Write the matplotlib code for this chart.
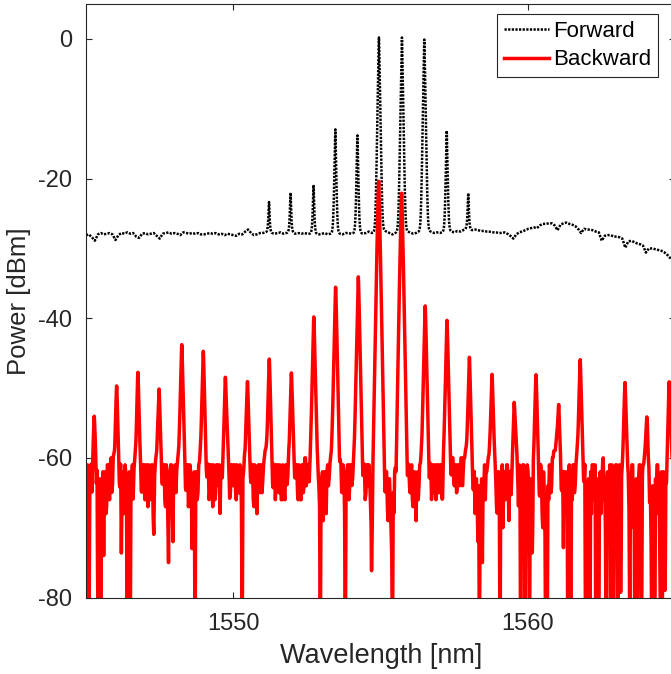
import numpy as np
import matplotlib
matplotlib.use('Agg')
import matplotlib.pyplot as plt

plt.rcParams['font.family'] = ['Liberation Sans', 'DejaVu Sans']
plt.rcParams['axes.unicode_minus'] = False

# ---------------- data ----------------
wl_start = 1545.0
wl_stop = 1565.0

# Backward noise floor [dBm], sampled every 0.025 nm from 1545.000 nm (two lines per nm)
floor_step = 0.025
backward_floor_dbm = [
    -66, -62, -61, -67, -90, -64, -63, -61, -66, -62, -59, -57, -58, -60, -65, -62, -90, -64, -69, -63,
    -90, -65, -66, -62, -74, -63, -62, -68, -67, -61, -61, -64, -66, -61, -60, -65, -64, -60, -60, -61,  # 1545
    -58, -57, -57, -59, -61, -66, -65, -61, -74, -63, -62, -68, -67, -61, -62, -66, -90, -64, -66, -62,
    -90, -65, -63, -61, -66, -62, -61, -60, -62, -60, -57, -57, -60, -61, -62, -66, -65, -61, -61, -64,  # 1546
    -66, -61, -61, -65, -67, -61, -62, -66, -65, -61, -61, -68, -71, -63, -61, -60, -60, -58, -57, -57,
    -58, -60, -61, -65, -64, -61, -61, -66, -67, -61, -62, -69, -75, -64, -63, -61, -61, -66, -72, -62,  # 1547
    -62, -61, -65, -62, -61, -60, -60, -59, -58, -57, -57, -58, -60, -61, -62, -66, -65, -61, -61, -67,
    -66, -61, -62, -65, -73, -64, -66, -62, -90, -63, -62, -66, -65, -61, -61, -60, -60, -58, -57, -57,  # 1548
    -57, -58, -61, -65, -64, -61, -61, -66, -65, -61, -61, -64, -67, -61, -62, -66, -65, -61, -61, -63,
    -64, -61, -68, -62, -62, -64, -61, -60, -60, -58, -57, -57, -58, -60, -62, -66, -65, -61, -61, -63,  # 1549
    -64, -61, -61, -65, -66, -61, -62, -65, -65, -61, -62, -67, -90, -63, -62, -60, -60, -58, -57, -57,
    -58, -60, -61, -64, -64, -61, -61, -66, -67, -61, -62, -65, -68, -62, -61, -65, -64, -61, -61, -65,  # 1550
    -63, -61, -60, -59, -59, -59, -59, -58, -57, -57, -58, -60, -62, -66, -65, -61, -61, -66, -64, -61,
    -61, -64, -65, -61, -62, -66, -66, -61, -62, -65, -66, -61, -61, -64, -63, -60, -60, -58, -57, -57,  # 1551
    -57, -58, -61, -64, -63, -61, -61, -65, -66, -61, -62, -66, -66, -61, -61, -65, -64, -60, -60, -64,
    -63, -61, -61, -64, -62, -60, -60, -59, -58, -57, -57, -58, -59, -60, -61, -63, -64, -67, -90, -66,  # 1552
    -63, -62, -69, -63, -62, -66, -68, -62, -61, -64, -63, -61, -60, -60, -59, -59, -58, -57, -57, -57,
    -58, -60, -61, -64, -64, -61, -61, -65, -65, -61, -62, -68, -90, -64, -63, -61, -61, -66, -64, -61,  # 1553
    -61, -64, -63, -61, -60, -60, -59, -59, -58, -57, -57, -58, -59, -60, -61, -65, -64, -61, -62, -66,
    -65, -61, -61, -64, -61, -63, -66, -70, -90, -66, -62, -61, -60, -60, -59, -59, -59, -59, -59, -59,  # 1554
    -59, -59, -60, -61, -62, -65, -66, -62, -62, -67, -69, -63, -63, -66, -70, -74, -90, -65, -68, -62,
    -62, -66, -64, -61, -60, -60, -59, -59, -59, -59, -59, -59, -60, -61, -62, -65, -66, -62, -61, -64,  # 1555
    -65, -62, -61, -66, -67, -62, -62, -65, -69, -63, -62, -66, -64, -61, -61, -60, -60, -59, -58, -57,
    -57, -58, -59, -60, -61, -64, -65, -61, -61, -66, -64, -61, -65, -62, -61, -66, -64, -61, -61, -65,  # 1556
    -63, -61, -61, -66, -67, -61, -60, -59, -58, -57, -57, -58, -59, -60, -61, -64, -63, -60, -60, -63,
    -64, -61, -61, -65, -64, -61, -61, -64, -63, -60, -60, -64, -62, -60, -60, -59, -59, -59, -58, -57,  # 1557
    -57, -58, -60, -61, -62, -66, -65, -62, -68, -63, -63, -67, -72, -64, -90, -66, -70, -63, -75, -64,
    -64, -61, -66, -62, -62, -61, -60, -60, -59, -58, -57, -57, -58, -59, -60, -61, -63, -67, -68, -62,  # 1558
    -62, -66, -90, -63, -65, -61, -70, -63, -62, -66, -65, -61, -61, -64, -69, -62, -62, -66, -64, -61,
    -60, -58, -57, -57, -58, -60, -63, -67, -61, -64, -90, -63, -66, -61, -61, -68, -90, -63, -64, -61,  # 1559
    -62, -65, -90, -63, -72, -64, -90, -62, -61, -58, -57, -57, -58, -60, -63, -67, -66, -61, -62, -68,
    -70, -62, -65, -71, -90, -75, -90, -64, -66, -61, -62, -65, -64, -60, -60, -59, -59, -59, -58, -57,  # 1560
    -57, -57, -58, -60, -61, -66, -65, -62, -73, -63, -62, -67, -64, -62, -90, -63, -61, -68, -90, -64,
    -66, -61, -61, -65, -64, -61, -60, -59, -59, -58, -57, -57, -58, -60, -61, -65, -64, -61, -90, -65,  # 1561
    -90, -64, -63, -72, -90, -62, -68, -61, -61, -66, -64, -61, -90, -63, -66, -75, -90, -63, -62, -68,
    -65, -61, -60, -64, -64, -70, -90, -63, -62, -67, -65, -61, -90, -64, -61, -72, -90, -62, -66, -61,  # 1562
    -61, -68, -90, -62, -61, -74, -90, -63, -62, -61, -58, -57, -57, -58, -60, -62, -63, -68, -90, -64,
    -64, -61, -61, -70, -65, -90, -90, -63, -90, -68, -63, -61, -61, -75, -90, -63, -61, -61, -60, -59,  # 1563
    -58, -57, -57, -61, -62, -67, -65, -72, -90, -64, -80, -90, -90, -63, -66, -61, -61, -68, -64, -75,
    -90, -62, -90, -66, -62, -73, -90, -64, -66, -62, -61, -58, -57, -57, -58, -60, -62, -66, -65, -61,  # 1564
    -62,                                                                                                 # 1565
]

# Backward comb lines
backward_peak_nm = [1545.28, 1546.04, 1546.76, 1547.48, 1548.25, 1548.98, 1549.73, 1550.48,
                    1551.22, 1551.97, 1552.73, 1553.47, 1554.24, 1554.93, 1555.71, 1556.51,
                    1557.25, 1558.01, 1558.78, 1559.53, 1560.27, 1561.04, 1561.77, 1563.29,
                    1564.03, 1564.79]
backward_peak_dbm = [-56.9, -50.6, -48.3, -51.1, -44.0, -45.0, -49.0, -49.8,
                     -46.2, -48.4, -39.9, -35.6, -34.1, -20.4, -22.1, -38.3,
                     -40.4, -45.9, -48.6, -53.4, -48.7, -53.9, -46.3, -50.0,
                     -57.3, -49.8]

# Forward background [dBm], sampled every 0.1 nm from 1545.0 nm
fwd_step = 0.1
forward_base_dbm = [
    -28.1, -28.0, -28.4, -28.9, -28.0, -27.8, -28.0, -27.9, -27.8, -28.0,  # 1545
    -28.8, -28.1, -27.8, -27.9, -27.7, -27.9, -27.8, -28.3, -28.5, -27.9,  # 1546
    -27.8, -28.0, -27.9, -27.8, -28.2, -28.6, -27.9, -27.8, -27.7, -27.9,  # 1547
    -27.8, -27.9, -28.1, -27.7, -27.8, -27.9, -27.8, -27.9, -27.8, -28.0,  # 1548
    -28.0, -27.9, -27.8, -27.9, -27.8, -28.0, -27.9, -28.1, -27.9, -28.0,  # 1549
    -28.1, -28.2, -27.9, -28.0, -27.6, -27.3, -27.8, -28.1, -28.0, -27.8,  # 1550
    -27.8, -27.7, -27.6, -27.8, -27.9, -27.8, -27.7, -27.9, -27.8, -27.7,  # 1551
    -27.7, -27.9, -27.8, -27.9, -27.8, -27.9, -27.9, -27.8, -27.9, -28.0,  # 1552
    -27.9, -27.8, -28.0, -27.9, -27.8, -27.8, -27.9, -28.0, -27.8, -27.8,  # 1553
    -27.9, -27.8, -27.7, -27.8, -27.9, -27.8, -27.6, -27.8, -27.7, -27.5,  # 1554
    -27.3, -27.4, -27.6, -27.8, -28.0, -27.8, -27.5, -27.2, -27.3, -27.6,  # 1555
    -27.7, -27.9, -27.8, -27.6, -27.4, -27.4, -27.5, -27.6, -27.8, -27.7,  # 1556
    -27.8, -27.7, -27.5, -27.4, -27.6, -27.7, -27.5, -27.6, -27.4, -27.2,  # 1557
    -27.2, -27.4, -27.3, -27.4, -27.5, -27.5, -27.6, -27.6, -27.7, -27.7,  # 1558
    -27.8, -27.8, -27.7, -27.9, -28.2, -28.6, -28.0, -27.7, -27.6, -27.4,  # 1559
    -27.2, -27.1, -27.0, -27.1, -26.7, -26.5, -26.5, -26.4, -26.4, -26.7,  # 1560
    -27.4, -26.6, -26.4, -26.3, -26.5, -26.6, -26.8, -27.2, -27.8, -27.2,  # 1561
    -27.3, -27.3, -27.4, -27.6, -27.7, -28.9, -28.2, -28.1, -28.1, -28.3,  # 1562
    -28.3, -28.4, -28.6, -29.9, -29.0, -28.9, -29.1, -29.3, -29.4, -29.6,  # 1563
    -30.6, -30.0, -30.0, -30.1, -30.2, -30.3, -30.5, -30.8, -31.3, -31.6,  # 1564
    -32.0,                                                                  # 1565
]

# Forward comb lines
forward_peak_nm = [1551.21, 1551.94, 1552.72, 1553.46, 1554.21, 1554.94, 1555.72, 1556.48,
                   1557.24, 1557.97]
forward_peak_dbm = [-25.4, -23.4, -21.9, -13.1, -14.0, 0.2, 0.2, -0.1, -13.3, -23.7]

x_ticks = [1550, 1560]
y_ticks = [-80, -60, -40, -20, 0]
series_labels = ['Forward', 'Backward']
x_label = 'Wavelength [nm]'
y_label = 'Power [dBm]'

# ---------------- build traces ----------------
floor_wl = wl_start + floor_step * np.arange(len(backward_floor_dbm))
fwd_wl = wl_start + fwd_step * np.arange(len(forward_base_dbm))
wl = np.linspace(wl_start, wl_stop, 4001)


def comb_lin(w, centers, powers, slope, curv, a):
    tot = np.zeros_like(w)
    for c, p in zip(centers, powers):
        d = np.abs(w - c)
        r = np.sqrt(d ** 2 + a ** 2) - a
        tot += 10 ** ((p - slope * r - curv * d ** 2) / 10.0)
    return tot


bw_floor = np.interp(wl, floor_wl, backward_floor_dbm)
backward = 10 * np.log10(10 ** (bw_floor / 10) +
                         comb_lin(wl, backward_peak_nm, backward_peak_dbm, 170, 300, 0.006))

fw_base = np.interp(wl, fwd_wl, forward_base_dbm)
forward = 10 * np.log10(10 ** (fw_base / 10) +
                        comb_lin(wl, forward_peak_nm, forward_peak_dbm, 250, 0, 0.006))

# ---------------- plot ----------------
W, H = 671, 674
fig = plt.figure(figsize=(W / 100, H / 100), dpi=100)
ax = fig.add_axes([86 / W, 76.5 / H, 589.4 / W, 593.5 / H])

dark = '#262626'
ax.plot(wl, forward, color='black', lw=1.8, linestyle=(0, (0.9, 0.55)),
        dash_capstyle='butt', label=series_labels[0])
ax.plot(wl, backward, color='#ff0000', lw=2.5, label=series_labels[1])

ax.set_xlim(wl_start, wl_stop)
ax.set_ylim(-80, 5)
ax.set_xticks(x_ticks)
ax.set_yticks(y_ticks)
ax.tick_params(direction='in', length=4.3, width=0.8, top=True, right=True,
               labelsize=17, colors=dark)
ax.tick_params(axis='x', pad=11)
ax.tick_params(axis='y', pad=10)
for s in ax.spines.values():
    s.set_color(dark)
    s.set_linewidth(0.8)

ax.set_xlabel(x_label, fontsize=19.5, color=dark, labelpad=6)
ax.set_ylabel(y_label, fontsize=18.5, color=dark, labelpad=5)

leg = ax.legend(loc='upper right', bbox_to_anchor=(658.3 / W, 1 - 14 / H),
                bbox_transform=fig.transFigure, borderaxespad=0, fontsize=16,
                handlelength=2.05, handletextpad=0.2, labelspacing=0.35,
                borderpad=0.3, fancybox=False, framealpha=1, edgecolor=dark)
leg.get_frame().set_linewidth(0.8)

fig.savefig('out.png', dpi=100)
